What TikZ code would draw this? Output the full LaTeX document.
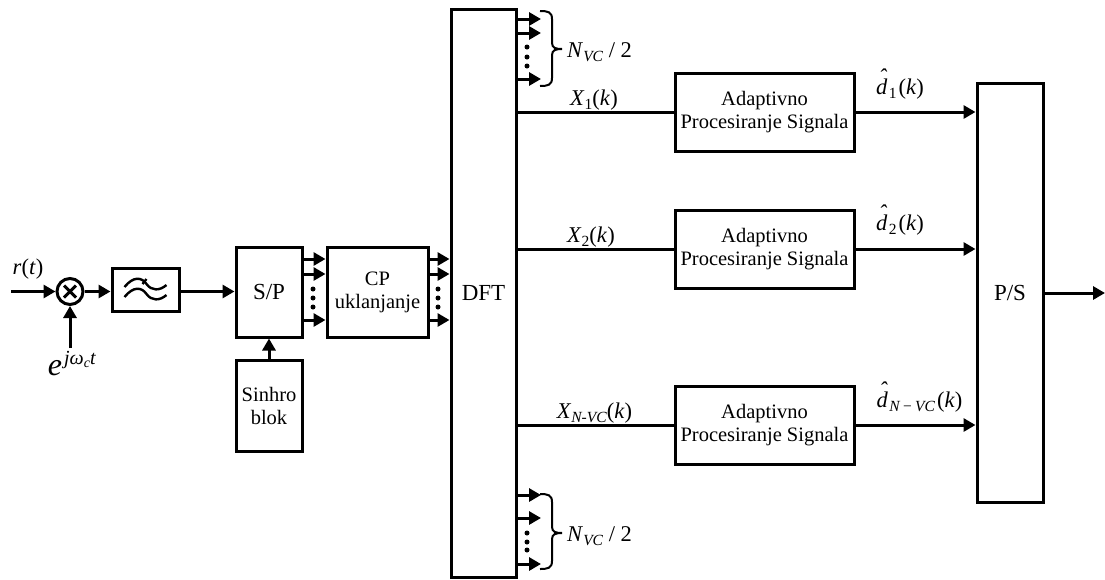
\documentclass[tikz,border=0pt]{standalone}
\usepackage{fontspec}
\setmainfont{Liberation Serif}
\usetikzlibrary{arrows.meta}

\newcommand{\itl}[1]{\textit{#1}}
\newcommand{\sbs}[1]{\raisebox{-4pt}{\fontsize{15.5}{15.5}\selectfont\textit{#1}}}
\newcommand{\dhat}[1]{\itl{d}\kern-8.5pt\raisebox{10pt}{\itl{ˆ}}\kern1.5pt\sbs{#1}\kern2pt(\itl{k})}

\begin{document}
\begin{tikzpicture}[
    x=1pt, y=-1pt,
    node distance=100pt,
    every node/.style={font=\fontsize{20.5}{23}\selectfont},
    box/.style={rectangle, draw, line width=3pt, align=center, inner sep=0pt},
    sigbox/.style={box, minimum width=179pt, minimum height=78pt},
    bigtext/.style={font=\fontsize{23}{25}\selectfont},
    mathtext/.style={font=\fontsize{22.5}{25}\selectfont, inner sep=0pt, anchor=base},
    arrow/.style={-{Triangle[length=12pt,width=13pt]}, line width=3pt},
    wire/.style={line width=3pt},
    dotmark/.style={circle, fill, inner sep=0pt, minimum size=5pt},
    curly/.style={line width=2pt}
]
\useasboundingbox (0,0) rectangle (1105,579);

% left chain
\node[circle, draw, line width=3pt, minimum size=26pt, inner sep=0pt] (mix) at (70,291.5) {};
\node[box, right of=mix, xshift=-24.5pt, yshift=1.5pt, minimum width=67pt, minimum height=43pt] (filt) {};
\node[box, right of=filt, xshift=23.5pt, yshift=-2pt, minimum width=66pt, minimum height=90pt, bigtext] (sp) {S/P};
\node[box, right of=sp, xshift=8.5pt, minimum width=101pt, minimum height=90pt] (cp) {CP\\uklanjanje};
\node[box, right of=cp, xshift=6pt, yshift=-1pt, minimum width=65pt, minimum height=568pt, bigtext] (dft) {DFT};
\node[box, below of=sp, yshift=-13.5pt, minimum width=66pt, minimum height=91pt] (sync) {Sinhro\\blok};

% adaptive blocks and output
\node[sigbox, right of=dft, xshift=181pt, yshift=181pt] (proc1) {Adaptivno\\Procesiranje Signala};
\node[sigbox, right of=dft, xshift=181pt, yshift=44pt] (proc2) {Adaptivno\\Procesiranje Signala};
\node[sigbox, right of=dft, xshift=181pt, yshift=-132pt] (proc3) {Adaptivno\\Procesiranje Signala};
\node[box, minimum width=66pt, minimum height=419pt, bigtext] (ps) at (1010,292.5) {P/S};

% mixer cross and filter symbol
\draw[line width=3pt] ([shift={(-6,-6)}]mix.center) -- ([shift={(6,6)}]mix.center);
\draw[line width=3pt] ([shift={(-6,6)}]mix.center) -- ([shift={(6,-6)}]mix.center);
\begin{scope}[shift={(filt.center)}, line width=2.4pt]
\draw (-21,-3) .. controls (-12,-14) and (-4,-13) .. (1,-6) .. controls (6,1) and (14,1) .. (21,-5);
\draw (-21,7) .. controls (-12,-4) and (-4,-3) .. (1,4) .. controls (6,11) and (14,11) .. (21,5);
\draw (-3,-6) -- (1,-11);
\end{scope}

% free ends
\coordinate (rin) at (11,291.5);
\coordinate (lo) at (70,348);
\coordinate (out) at (1105,293);

\draw[arrow] (rin) -- (mix);
\draw[arrow] (lo) -- (mix);
\draw[arrow] (mix) -- (filt.west |- mix);
\draw[arrow] (filt.east |- mix) -- (sp.west |- mix);
\draw[arrow] (sync) -- (sp);
\draw[arrow] (ps.east |- out) -- (out);

% parallel lines
\foreach \y in {259,274,320} {
  \draw[arrow] (sp.east |- 0,\y) -- (cp.west |- 0,\y);
  \draw[arrow] (cp.east |- 0,\y) -- (dft.west |- 0,\y);
}
\foreach \y in {289,298,307} {
  \node[dotmark] (spdot\y) at (313,\y) {};
  \node[dotmark] (cpdot\y) at (438,\y) {};
}
\foreach \y in {19,33,79,495,518,564} {
  \coordinate (stub\y) at (541,\y);
  \draw[arrow] (dft.east |- stub\y) -- (stub\y);
}
\foreach \y in {47,57,66,533,542,550} {
  \node[dotmark] (dftdot\y) at (527,\y) {};
}

% braces
\foreach \y/\m in {11/38,494/39} {
  \begin{scope}[shift={(540,\y)}]
  \draw[curly] (0,0) .. controls (8,0) and (12,1) .. (12,8) -- (12,\m-6) .. controls (12,\m-1) and (16,\m) .. (22,\m)
    .. controls (16,\m) and (12,\m+1) .. (12,\m+6) -- (12,67) .. controls (12,74) and (8,75) .. (0,75);
  \end{scope}
}
\node[mathtext, anchor=base west] (ntop) at (567,57) {\itl{N}\sbs{VC} / 2};
\node[mathtext, anchor=base west] (nbot) at (567,541) {\itl{N}\sbs{VC} / 2};

% signal paths
\draw[wire] (dft.east |- proc1) -- node[mathtext, yshift=7pt, xshift=-1.5pt] {\itl{X}\sbs{\upshape 1}(\itl{k})} (proc1);
\draw[wire] (dft.east |- proc2) -- node[mathtext, yshift=7pt, xshift=-4.5pt] {\itl{X}\sbs{\upshape 2}(\itl{k})} (proc2);
\draw[wire] (dft.east |- proc3) -- node[mathtext, yshift=7pt, xshift=-1pt] {\itl{X}\sbs{N-VC}(\itl{k})} (proc3);
\draw[arrow] (proc1) -- node[mathtext, xshift=-15.5pt, yshift=18pt] {\dhat{\upshape 1}} (ps.west |- proc1);
\draw[arrow] (proc2) -- node[mathtext, xshift=-15.5pt, yshift=19pt] {\dhat{\upshape 2}} (ps.west |- proc2);
\draw[arrow] (proc3) -- node[mathtext, xshift=4pt, yshift=18pt] {\dhat{N\,−\,VC}} (ps.west |- proc3);

% input labels
\node[mathtext, anchor=center] (rlabel) at (28,269) {\itl{r}(\itl{t})};
\node[inner sep=0pt] (lolabel) at (72,364) {\fontsize{32}{32}\selectfont\itl{e}\kern2pt\raisebox{11pt}{\fontsize{20}{20}\selectfont\itl{jω}\raisebox{-3pt}{\fontsize{14}{14}\selectfont\itl{c}}\itl{t}}};
\end{tikzpicture}
\end{document}
